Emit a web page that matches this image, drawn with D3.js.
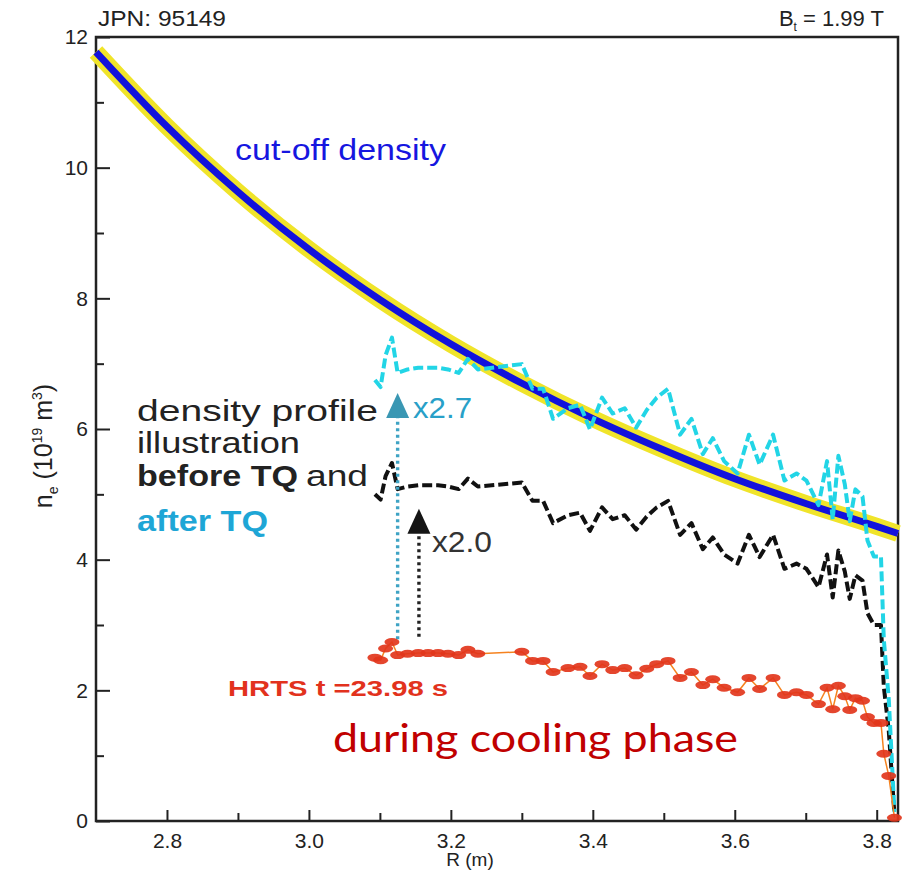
<!DOCTYPE html>
<html>
<head>
<meta charset="utf-8">
<script src="https://cdn.jsdelivr.net/npm/d3@7"></script>
<style>
  html, body { margin: 0; padding: 0; background: #fff; }
  svg { display: block; }
  text { font-family: "Liberation Sans", Arial, sans-serif; }
</style>
</head>
<body>
<svg id="chart" width="904" height="879"></svg>
<script>
// Cut-off density along the major radius (10^19 m^-3)
const cutoffR = [2.70, 2.80, 2.90, 3.00, 3.10, 3.20, 3.30, 3.40, 3.50, 3.60, 3.70, 3.80, 3.83];
const cutoffN = [11.77, 10.63, 9.63, 8.75, 7.98, 7.30, 6.70, 6.16, 5.68, 5.24, 4.86, 4.51, 4.40];

// HRTS profile at t = 23.98 s
const hrtsR = [3.093, 3.101, 3.108, 3.117, 3.125, 3.139, 3.154, 3.168, 3.182, 3.196,
               3.211, 3.224, 3.238, 3.300, 3.315, 3.330, 3.344, 3.365, 3.382, 3.396,
               3.413, 3.428, 3.445, 3.461, 3.476, 3.490, 3.506, 3.523, 3.539, 3.555,
               3.569, 3.585, 3.604, 3.620, 3.635, 3.654, 3.670, 3.687, 3.701, 3.718,
               3.730, 3.738, 3.746, 3.755, 3.762, 3.770, 3.780, 3.787, 3.796, 3.806,
               3.810, 3.817, 3.825];
const hrtsN = [2.50, 2.46, 2.64, 2.74, 2.54, 2.56, 2.57, 2.57, 2.57, 2.56,
               2.54, 2.62, 2.56, 2.59, 2.45, 2.45, 2.28, 2.34, 2.36, 2.22,
               2.40, 2.31, 2.34, 2.23, 2.33, 2.40, 2.45, 2.19, 2.28, 2.08,
               2.17, 2.04, 1.97, 2.19, 2.02, 2.19, 1.93, 1.97, 1.93, 1.79,
               2.04, 1.71, 2.07, 1.91, 1.70, 1.88, 1.84, 1.59, 1.50, 1.50,
               1.03, 0.69, 0.05];

// Scaling factors used for the illustrated profiles
const factorBefore = 2.0;
const factorAfter = 2.7;

// Arrows: R position, start density, tip density
const arrowAfter = { r: 3.125, from: 2.78, to: 6.55 };
const arrowBefore = { r: 3.155, from: 2.82, to: 4.78 };

// Axis ticks
const xMajor = [2.8, 3.0, 3.2, 3.4, 3.6, 3.8];
const xMinor = [2.9, 3.1, 3.3, 3.5, 3.7];
const yMajor = [0, 2, 4, 6, 8, 10, 12];
const yMinor = [1, 3, 5, 7, 9, 11];

const svg = d3.select("#chart");
const plotL = 96, plotR = 898, plotT = 37, plotB = 821;

const x = d3.scaleLinear().domain([2.7, 3.83]).range([plotL, plotR]);
const y = d3.scaleLinear().domain([0, 12]).range([plotB, plotT]);

// Axes: ticks point into the plot
const gx = svg.append("g").attr("transform", `translate(0,${plotB})`);
gx.call(d3.axisBottom(x).tickValues(xMajor).tickSize(-11).tickPadding(12)
  .tickFormat(d3.format(".1f")));
gx.append("g").call(d3.axisBottom(x).tickValues(xMinor).tickSize(-8).tickFormat(""));

const gy = svg.append("g").attr("transform", `translate(${plotL},0)`);
gy.call(d3.axisLeft(y).tickValues(yMajor).tickSize(-14).tickPadding(8));
gy.append("g").call(d3.axisLeft(y).tickValues(yMinor).tickSize(-8).tickFormat(""));

svg.selectAll(".domain").remove();
svg.selectAll(".tick line").attr("stroke", "#222").attr("stroke-width", 2);
svg.selectAll(".tick text").attr("fill", "#222").style("font-size", "21px")
  .style("font-family", "'Liberation Sans', Arial, sans-serif");

// Frame
svg.append("rect").attr("x", plotL).attr("y", plotT)
  .attr("width", plotR - plotL).attr("height", plotB - plotT)
  .attr("fill", "none").attr("stroke", "#222").attr("stroke-width", 2.5);

// Cut-off density curve
const cutoff = cutoffR.map((r, i) => [r, cutoffN[i]]);
const curveLine = d3.line().x(d => x(d[0])).y(d => y(d[1])).curve(d3.curveMonotoneX);
svg.append("path").datum(cutoff).attr("d", curveLine)
  .attr("fill", "none").attr("stroke", "#f0e42a").attr("stroke-width", 17);
svg.append("path").datum(cutoff).attr("d", curveLine)
  .attr("fill", "none").attr("stroke", "#1212dc").attr("stroke-width", 7);

// Illustrated profiles before / after the thermal quench
const profLine = f => d3.line().x((d, i) => x(hrtsR[i])).y(d => y(d * f));
svg.append("path").datum(hrtsN).attr("d", profLine(factorBefore))
  .attr("fill", "none").attr("stroke", "#111").attr("stroke-width", 4)
  .attr("stroke-dasharray", "10,4").attr("stroke-linejoin", "round");
svg.append("path").datum(hrtsN).attr("d", profLine(factorAfter))
  .attr("fill", "none").attr("stroke", "#22d5e6").attr("stroke-width", 4)
  .attr("stroke-dasharray", "10,4").attr("stroke-linejoin", "round");

// Dotted arrows
function arrow(a, colShaft, colHead) {
  const xa = x(a.r), y0 = y(a.from), tip = y(a.to);
  const headH = 25, headW = 11.5;
  svg.append("line").attr("x1", xa).attr("x2", xa)
    .attr("y1", y0).attr("y2", tip + headH)
    .attr("stroke", colShaft).attr("stroke-width", 3.4).attr("stroke-dasharray", "3,3.5");
  svg.append("path")
    .attr("d", `M${xa},${tip} L${xa + headW},${tip + headH} L${xa - headW},${tip + headH} Z`)
    .attr("fill", colHead);
}
arrow(arrowAfter, "#3ea3c4", "#3a97b3");
arrow(arrowBefore, "#222", "#151515");

// HRTS points
const hrts = hrtsR.map((r, i) => [r, hrtsN[i]]);
svg.append("path").datum(hrts).attr("d", d3.line().x(d => x(d[0])).y(d => y(d[1])))
  .attr("fill", "none").attr("stroke", "#f5821f").attr("stroke-width", 1.5);
svg.append("g").selectAll("ellipse").data(hrts).join("ellipse")
  .attr("cx", d => x(d[0])).attr("cy", d => y(d[1]))
  .attr("rx", 7.5).attr("ry", 4).attr("fill", "#e2361c").attr("fill-opacity", 0.92);

// Text labels
function label(t, px, py, size, opts = {}) {
  const el = svg.append("text").attr("x", px).attr("y", py)
    .style("font-size", size + "px")
    .attr("fill", opts.fill || "#222")
    .style("font-weight", opts.bold ? "bold" : "normal")
    .attr("text-anchor", opts.anchor || "start")
    .text(t);
  if (opts.family) el.style("font-family", opts.family);
  if (opts.width) el.attr("textLength", opts.width).attr("lengthAdjust", "spacingAndGlyphs");
  return el;
}

label("JPN: 95149", 98, 26, 22, { width: 128 });
const bt = svg.append("text").attr("x", 884).attr("y", 26).attr("text-anchor", "end")
  .style("font-size", "22px").attr("fill", "#222");
bt.append("tspan").text("B");
bt.append("tspan").attr("dy", 5).style("font-size", "12px").text("t");
bt.append("tspan").attr("dy", -5).text(" = 1.99 T");

// Axis titles
svg.append("text").attr("x", 470).attr("y", 866).attr("text-anchor", "middle")
  .style("font-size", "19px").attr("fill", "#222").text("R (m)");
const yt = svg.append("text").attr("transform", "translate(52,446) rotate(-90)")
  .attr("text-anchor", "middle").style("font-size", "25px").attr("fill", "#222");
yt.append("tspan").text("n");
yt.append("tspan").attr("dy", 6).style("font-size", "14px").text("e");
yt.append("tspan").attr("dy", -6).text(" (10");
yt.append("tspan").attr("dy", -10).style("font-size", "14px").text("19");
yt.append("tspan").attr("dy", 10).text(" m");
yt.append("tspan").attr("dy", -10).style("font-size", "14px").text("3");
yt.append("tspan").attr("dy", 10).text(")");

label("cut-off density", 235, 160, 30, { fill: "#1616e0", width: 211 });
label("density profile", 137, 421, 30, { width: 241 });
label("illustration", 137, 453, 30, { width: 163 });
label("before TQ", 137, 486, 30, { bold: true, width: 161 });
label("and", 306, 486, 30, { width: 62 });
label("after TQ", 137, 531, 30, { bold: true, fill: "#1ea6d6", width: 131 });
label("x2.7", 413, 418, 30, { fill: "#28a0c8", width: 59 });
label("x2.0", 432, 552, 30, { fill: "#333", width: 60 });
label("HRTS t =23.98 s", 228, 696, 22, { bold: true, fill: "#e2321d", width: 220 });
label("during cooling phase", 333, 752, 38, { fill: "#c00000", width: 405, family: "Lato, 'Open Sans', sans-serif" });
</script>
</body>
</html>
